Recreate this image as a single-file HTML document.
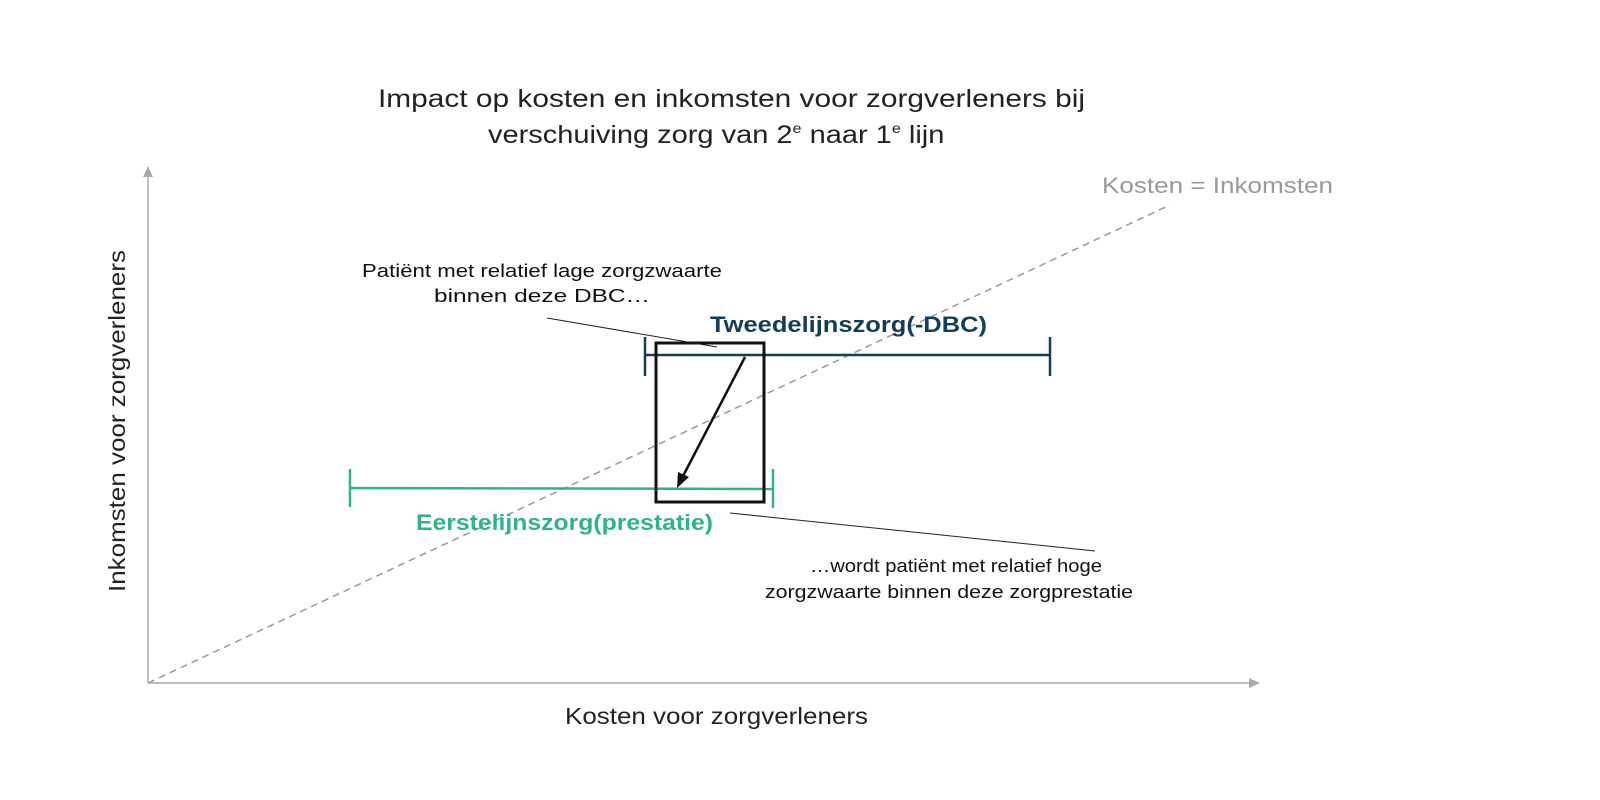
<!DOCTYPE html>
<html><head><meta charset="utf-8"><style>
html,body{margin:0;padding:0;background:#fff;width:1600px;height:800px;overflow:hidden}
svg{display:block}
text{font-family:"Liberation Sans",sans-serif}
</style></head><body>
<svg width="1600" height="800" viewBox="0 0 1600 800" xmlns="http://www.w3.org/2000/svg">
<text x="378" y="107" font-size="25" textLength="707" lengthAdjust="spacingAndGlyphs" fill="#222">Impact op kosten en inkomsten voor zorgverleners bij</text>
<text x="488" y="143" font-size="25" fill="#222" transform="translate(488,0) scale(1.16,1) translate(-488,0)">verschuiving zorg van 2<tspan font-size="14" dy="-10">e</tspan><tspan dy="10"> naar 1</tspan><tspan font-size="14" dy="-10">e</tspan><tspan dy="10"> lijn</tspan></text>
<!-- axes -->
<line x1="148" y1="683" x2="148" y2="175" stroke="#aaa" stroke-width="1.5"/>
<polygon points="148,166 143,177 153,177" fill="#aaa"/>
<line x1="148" y1="683" x2="1250" y2="683" stroke="#aaa" stroke-width="1.5"/>
<polygon points="1260,683 1249,678 1249,688" fill="#aaa"/>
<line x1="148" y1="683" x2="1170" y2="205" stroke="#999" stroke-width="1.5" stroke-dasharray="7,5"/>
<rect x="1098" y="170" width="240" height="30" fill="#fff"/>
<text x="1102" y="193" font-size="22" textLength="231" lengthAdjust="spacingAndGlyphs" fill="#999">Kosten = Inkomsten</text>
<text transform="translate(125,592) rotate(-90)" font-size="23" textLength="342" lengthAdjust="spacingAndGlyphs" fill="#222">Inkomsten voor zorgverleners</text>
<text x="565" y="724" font-size="23" textLength="303" lengthAdjust="spacingAndGlyphs" fill="#222">Kosten voor zorgverleners</text>
<!-- bars -->
<g stroke="#123f55" stroke-width="2.5">
<line x1="645" y1="355" x2="1050" y2="355"/><line x1="645" y1="337" x2="645" y2="376"/><line x1="1050" y1="337" x2="1050" y2="376"/></g>
<g stroke="#2db38e" stroke-width="2.5">
<line x1="350" y1="488" x2="773" y2="489"/><line x1="350" y1="469" x2="350" y2="507"/><line x1="773" y1="469" x2="773" y2="508"/></g>
<text x="710" y="332" font-size="22" font-weight="bold" textLength="277" lengthAdjust="spacingAndGlyphs" fill="#123f55">Tweedelijnszorg(-DBC)</text>
<text x="416" y="530" font-size="22" font-weight="bold" textLength="297" lengthAdjust="spacingAndGlyphs" fill="#2db38e">Eerstelijnszorg(prestatie)</text>
<rect x="656" y="343" width="108" height="159" fill="none" stroke="#111" stroke-width="3"/>
<line x1="745" y1="357" x2="682" y2="478" stroke="#111" stroke-width="2.5"/>
<polygon points="677,488 678,472 689,477" fill="#111"/>
<line x1="547" y1="318" x2="717" y2="347" stroke="#222" stroke-width="1"/>
<line x1="730" y1="513" x2="1095" y2="551" stroke="#222" stroke-width="1"/>
<text x="362" y="277" font-size="18" textLength="360" lengthAdjust="spacingAndGlyphs" fill="#111">Patiënt met relatief lage zorgzwaarte</text>
<text x="434" y="302" font-size="18" textLength="216" lengthAdjust="spacingAndGlyphs" fill="#111">binnen deze DBC…</text>
<text x="810" y="572" font-size="18" textLength="292" lengthAdjust="spacingAndGlyphs" fill="#111">…wordt patiënt met relatief hoge</text>
<text x="765" y="598" font-size="18" textLength="368" lengthAdjust="spacingAndGlyphs" fill="#111">zorgzwaarte binnen deze zorgprestatie</text>
</svg>
</body></html>
